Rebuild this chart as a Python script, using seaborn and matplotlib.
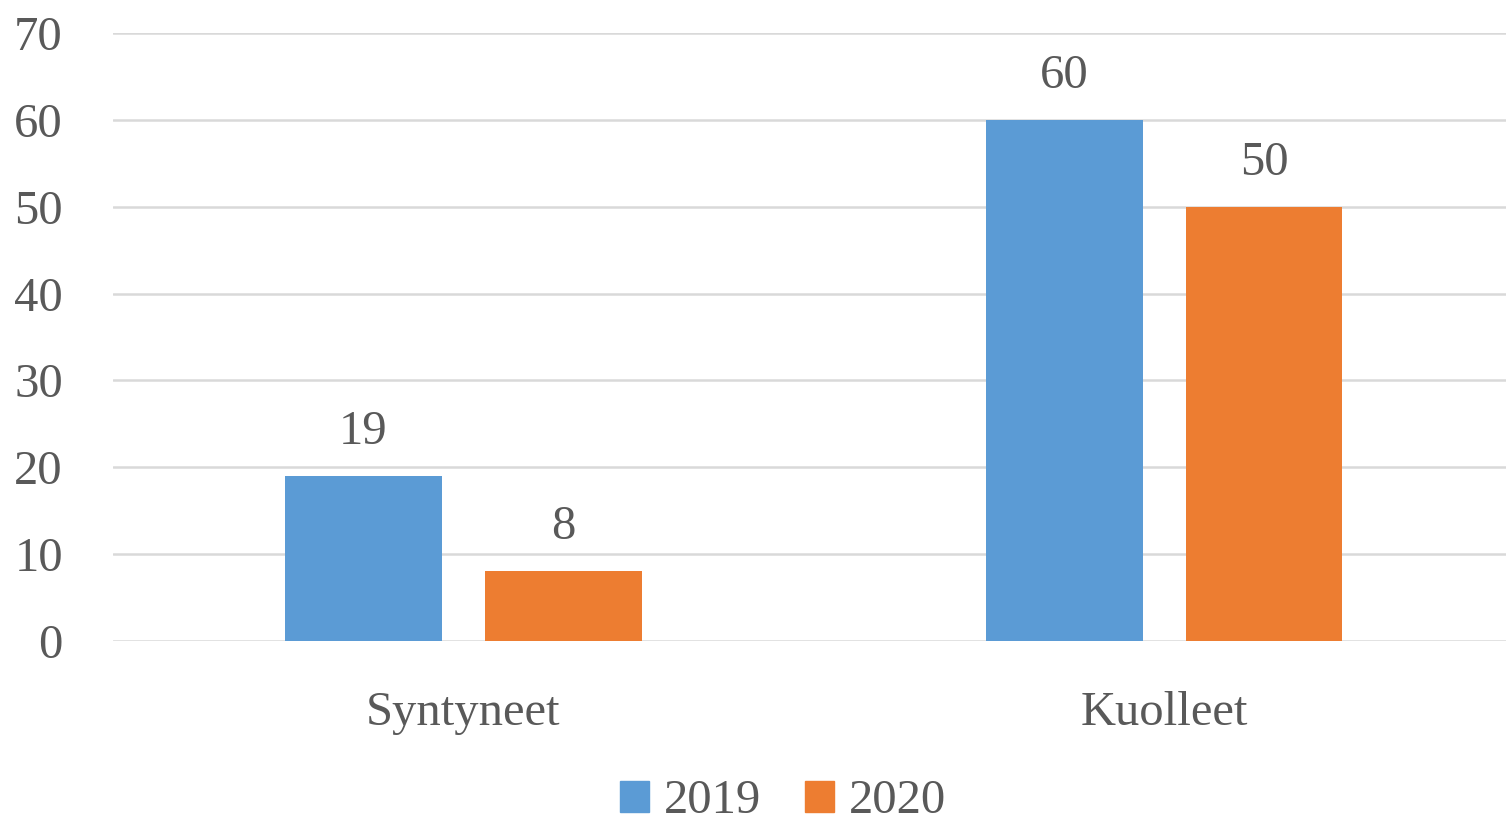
import pandas as pd
import matplotlib.pyplot as plt
import seaborn as sns

# data
categories = ["Syntyneet", "Kuolleet"]
years = ["2019", "2020"]
values_2019 = [19, 60]
values_2020 = [8, 50]

colors = {"2019": "#5B9BD5", "2020": "#ED7D31"}
TEXT = "#595959"
FS = 35

df = pd.DataFrame({
    "kategoria": categories * 2,
    "vuosi": [years[0]] * len(categories) + [years[1]] * len(categories),
    "arvo": values_2019 + values_2020,
})

sns.set_style("white")
plt.rcParams["font.family"] = ["Liberation Serif", "DejaVu Serif"]

fig = plt.figure(figsize=(15.06, 8.26), dpi=100)
ax = fig.add_axes([0.075, 0.224, 0.925, 0.736])

sns.barplot(data=df, x="kategoria", y="arvo", hue="vuosi", order=categories,
            hue_order=years, palette=colors, width=0.57, gap=0.215,
            saturation=1, linewidth=0, ax=ax, legend=False)

for cont in ax.containers:
    ax.bar_label(cont, padding=16, fontsize=FS, color=TEXT)

ax.set_ylim(0, 70)
ax.set_xlim(-0.5, 1.488)
ax.set_yticks(range(0, 71, 10))
ax.yaxis.grid(True, color="#D9D9D9", linewidth=1.8)
ax.set_axisbelow(True)
for s in ax.spines.values():
    s.set_visible(False)
ax.tick_params(axis="y", length=0, pad=36, labelsize=FS, labelcolor=TEXT)
ax.tick_params(axis="x", length=0, pad=36, labelsize=FS, labelcolor=TEXT)
ax.set_xlabel("")
ax.set_ylabel("")

handles = [plt.Rectangle((0, 0), 1, 1, color=colors[y]) for y in years]
fig.legend(handles, years, loc="center", bbox_to_anchor=(0.52, 0.03),
           ncol=2, frameon=False, fontsize=FS, labelcolor=TEXT,
           handlelength=0.6, handleheight=0.6, handletextpad=0.3,
           columnspacing=0.9, borderpad=0)

fig.savefig("out.png", dpi=100)
